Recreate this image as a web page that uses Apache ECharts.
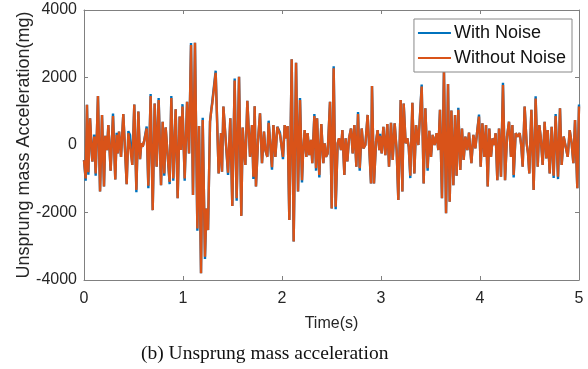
<!DOCTYPE html>
<html><head><meta charset="utf-8">
<script src="https://cdn.jsdelivr.net/npm/echarts@6/dist/echarts.min.js"></script>
<style>html,body{margin:0;padding:0;background:#fff}#c{width:588px;height:369px}</style>
</head><body><div id="c"></div>
<script>
// Time stamps (ms) and acceleration (mg) of the "Without Noise" signal, per second
const t1 = [0,17,30,44,61,84,104,118,141,162,182,202,215,232,246,269,293,316,330,340,354,374,397,431,448,465,488,508,529,549,566,579,593,606,633,650,673,694,714,734,754,778,795,811,825,845,865,882,902,926,946,966,980];
const v1 = [-445,-990,1190,-810,790,-490,250,-840,1450,-1380,890,-1230,270,-150,590,-760,860,-1020,300,-250,400,-350,920,-1160,350,300,-590,1200,-1330,990,-420,50,-50,100,490,-1210,1450,-1930,1230,-640,1330,-1190,690,-840,520,-300,-1090,1390,-990,1060,-1580,840,-150];
const t2 = [995,1017,1041,1061,1081,1101,1121,1145,1162,1182,1199,1222,1236,1253,1273,1286,1296,1330,1360,1384,1394,1408,1421,1455,1478,1498,1522,1542,1566,1589,1603,1616,1630,1650,1677,1697,1711,1724,1737,1758,1778,1798,1818,1832,1852,1865,1899,1913,1933,1953,1980];
const v2 = [1140,-990,1280,-250,2960,-1480,3030,-2470,560,-3800,740,-3310,-1880,-2520,690,1040,1230,2140,-840,350,-790,1140,590,-820,790,-1810,1910,-1580,2020,-2100,520,-150,-590,1310,-350,590,-940,1150,-1230,150,940,-540,400,-150,-350,660,-660,590,-350,540,300];
const t3 = [2010,2027,2041,2057,2074,2098,2118,2142,2162,2182,2202,2212,2229,2246,2259,2276,2293,2306,2327,2344,2354,2377,2397,2418,2431,2445,2461,2485,2502,2522,2542,2562,2576,2596,2610,2630,2643,2660,2677,2697,2714,2731,2751,2768,2785,2805,2822,2842,2865,2899,2909,2929,2950,2966,2983];
const v3 = [-350,590,200,560,-2220,2540,-2860,2440,-1380,1330,-1040,-300,440,-350,350,-300,150,-540,860,-690,790,-890,620,-540,50,-350,-250,1280,-1880,2270,-1830,50,200,-150,440,-890,200,-490,200,490,-250,590,-640,920,-690,490,-100,0,890,-1140,1750,-1140,100,440,-150];
const t4 = [2990,3007,3024,3044,3064,3081,3101,3118,3138,3158,3175,3199,3216,3229,3249,3266,3280,3296,3317,3337,3354,3377,3394,3411,3431,3448,3471,3488,3505,3522,3542,3562,3579,3596,3616,3636,3657,3677,3694,3711,3731,3748,3764,3781,3801,3818,3835,3852,3872,3889,3913,3933,3953,3973,3990];
const v4 = [270,-250,540,-300,620,-640,660,-445,640,-150,-1630,1330,-1380,1230,50,200,-50,-910,1250,-840,590,0,50,1730,-1140,1090,-690,420,-350,300,0,350,-150,1040,-1580,2220,-2020,1810,-1680,1020,-1190,890,-910,1040,-740,490,-445,250,-150,370,-540,300,-100,440,840];
const t5 = [4007,4024,4044,4061,4078,4094,4111,4128,4142,4158,4175,4192,4212,4232,4253,4273,4293,4313,4327,4340,4360,4381,4401,4418,4431,4451,4471,4485,4498,4519,4542,4562,4583,4599,4613,4633,4653,4670,4684,4704,4724,4744,4764,4788,4808,4825,4845,4865,4886,4906,4926,4943,4960,4983,5000];
const v5 = [-640,640,-350,590,-1230,490,-350,200,0,350,-1040,490,-940,1780,-1040,250,690,-350,590,-890,350,250,350,-50,-640,1140,50,-250,-840,1040,-1330,1380,-640,590,250,-590,690,-395,440,-840,540,-910,860,-940,1090,-590,250,250,-350,440,50,-540,740,-1280,1140];
// Where the "With Noise" curve visibly departs from the clean one (ms) and by how much (mg)
const noiseTimes = [17,44,104,118,293,330,448,529,633,650,673,754,811,865,882,902,995,1017,1081,1145,1199,1222,1296,1330,1455,1522,1542,1711,1865,1899,1980,2010,2182,2202,2327,2344,2377,2522,2542,2768,2785,2990,3296,3411,3471,3781,3990,4232,4340,4562,4744,4764,4788,5000];
const noiseDelta = [-70,-70,60,-70,70,60,60,-70,60,-70,60,60,-70,-70,60,-70,70,-70,60,-70,70,-70,60,60,-70,60,-70,-70,60,-70,60,-70,60,-70,60,-70,-70,60,-70,60,-70,60,-70,60,-70,60,60,60,-70,60,-70,60,-70,60];
const xTicks = [0,1,2,3,4,5];
const yTicks = [-4000,-2000,0,2000,4000];
const seriesNames = ['With Noise','Without Noise'];

const times = [].concat(t1,t2,t3,t4,t5);
const clean = [].concat(v1,v2,v3,v4,v5);
const deltaMap = {};
noiseTimes.forEach((t,i)=>{deltaMap[t]=noiseDelta[i];});
const dataClean = times.map((t,i)=>[t/1000, clean[i]]);
const dataNoise = times.map((t,i)=>[t/1000, clean[i] + (deltaMap[t]||0)]);

const FONT = 'Liberation Sans, Arial, Helvetica, sans-serif';
const axisGrey = '#808080';
const tickCommon = {show:true, inside:true, length:4, lineStyle:{color:axisGrey}};
const lineCommon = {show:true, onZero:false, lineStyle:{color:axisGrey, width:1}};
const chart = echarts.init(document.getElementById('c'), null, {renderer:'canvas'});
chart.setOption({
  animation:false,
  backgroundColor:'#fff',
  grid:{left:84,right:9,top:10,bottom:89,show:false,containLabel:false,outerBoundsMode:'none'},
  legend:{
    data:seriesNames, orient:'vertical', right:16, top:19,
    icon:'rect', itemWidth:33, itemHeight:2, itemGap:7,
    padding:[5,6,5,4],
    backgroundColor:'#fff', borderColor:'#888', borderWidth:1,
    textStyle:{fontFamily:FONT, fontSize:18, color:'#111', padding:[0,0,0,-2]}
  },
  xAxis:[{
    type:'value', min:xTicks[0], max:xTicks[xTicks.length-1], interval:1,
    name:'Time(s)', nameLocation:'middle', nameGap:36, nameMoveOverlap:false,
    nameTextStyle:{fontFamily:FONT, fontSize:16, color:'#262626'},
    axisLine:lineCommon, axisTick:tickCommon,
    axisLabel:{fontFamily:FONT, fontSize:16, color:'#262626', margin:11},
    splitLine:{show:false}
  },{
    type:'value', position:'top', min:xTicks[0], max:xTicks[xTicks.length-1], interval:1,
    axisLine:lineCommon, axisTick:tickCommon,
    axisLabel:{show:false}, splitLine:{show:false}
  }],
  yAxis:[{
    type:'value', min:yTicks[0], max:yTicks[yTicks.length-1], interval:2000,
    name:'Unsprung mass Acceleration(mg)', nameLocation:'middle', nameGap:51, nameMoveOverlap:false,
    nameTextStyle:{fontFamily:FONT, fontSize:18, color:'#262626'},
    axisLine:lineCommon, axisTick:tickCommon,
    axisLabel:{fontFamily:FONT, fontSize:16, color:'#262626', margin:7, formatter:(v)=>String(v)},
    splitLine:{show:false}
  },{
    type:'value', position:'right', min:yTicks[0], max:yTicks[yTicks.length-1], interval:2000,
    axisLine:lineCommon, axisTick:tickCommon,
    axisLabel:{show:false}, splitLine:{show:false}
  }],
  series:[{
    name:seriesNames[0], type:'line', data:dataNoise, showSymbol:false, symbol:'none',
    lineStyle:{color:'#0072BD', width:2.4}, itemStyle:{color:'#0072BD'}, z:2
  },{
    name:seriesNames[1], type:'line', data:dataClean, showSymbol:false, symbol:'none',
    lineStyle:{color:'#D95319', width:2.4}, itemStyle:{color:'#D95319'}, z:3
  }],
  graphic:[{
    type:'text', left:141, top:344,
    style:{text:'(b) Unsprung mass acceleration', font:'19.5px "Liberation Serif", "Times New Roman", serif', fill:'#111'}
  }]
});
</script></body></html>
